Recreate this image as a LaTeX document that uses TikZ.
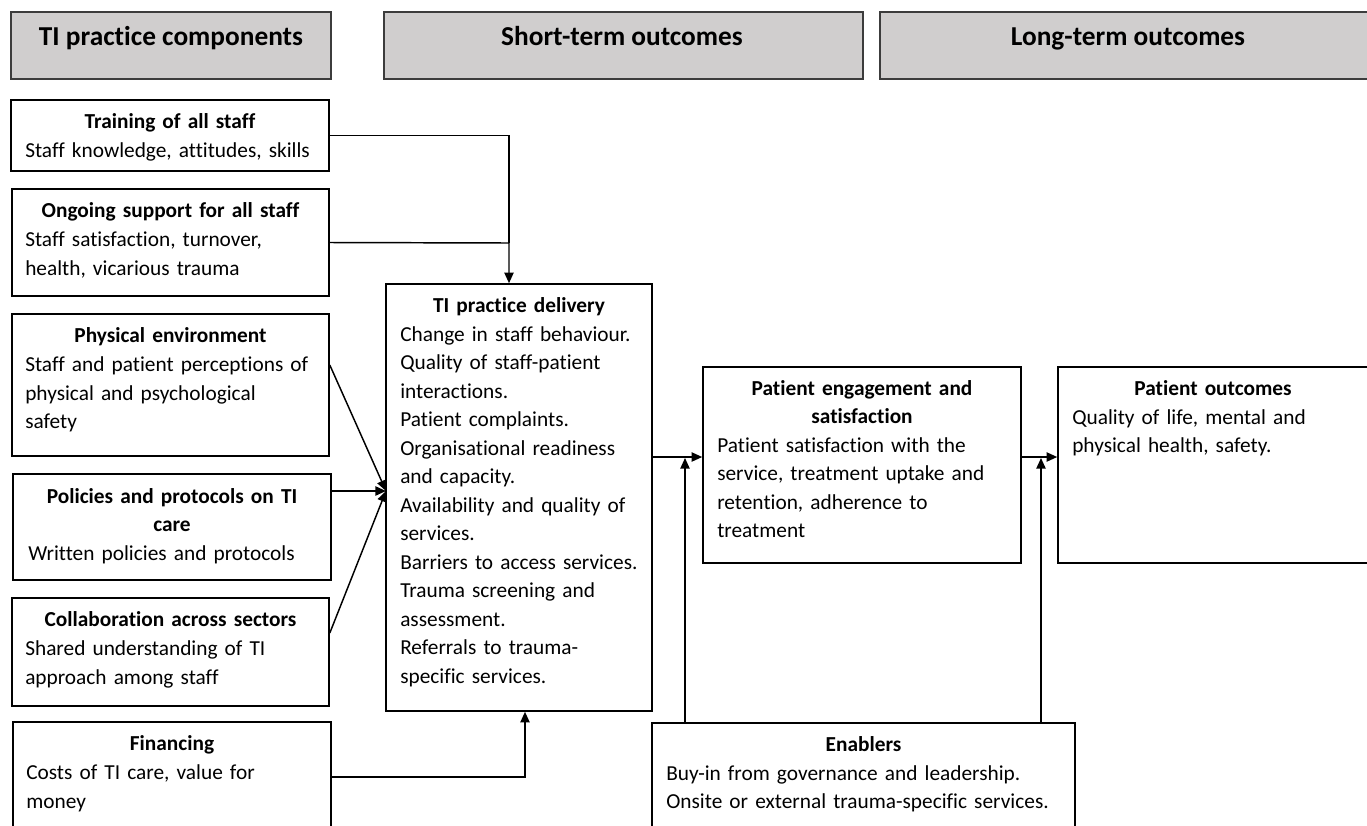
\documentclass[tikz,border=0pt]{standalone}
\usepackage{fontspec}
\setmainfont{Carlito}[Ligatures={NoCommon}]
\usetikzlibrary{arrows.meta,fit}
\definecolor{hdrgray}{RGB}{208,206,206}

\begin{document}
\begin{tikzpicture}[x=0.75pt,y=0.75pt,yscale=-1,
  every node/.style={font=\fontsize{16}{21.4}\selectfont, inner sep=0pt},
  hdr/.style={draw={rgb,255:red,60;green,60;blue,60}, fill=hdrgray, line width=1.2pt},
  hdrtext/.style={font=\fontsize{20.5}{24}\selectfont\bfseries, anchor=base},
  box/.style={draw, line width=1.2pt},
  ttl/.style={font=\fontsize{16}{21.4}\selectfont\bfseries, align=center, text width=236pt, anchor=base},
  txt/.style={align=left, text width=300pt, anchor=base west},
  link/.style={line width=1.1pt, -{Triangle[length=8pt,width=7pt]}},
  plain/.style={line width=1.1pt}
]
\useasboundingbox (0,0) rectangle (1367,825);
\clip (0,0) rectangle (1367,825);

%Shape: Rectangle [headers]
\node[hdr, fit={(11,12) (331,79)}] (hdrComp) {};
\node[hdr, fit={(384,12) (863,79)}] (hdrShort) {};
\node[hdr, fit={(880,12) (1376,79)}] (hdrLong) {};
% Text Node
\node[hdrtext] (hdrCompT) at (171,45) {TI practice components};
% Text Node
\node[hdrtext] (hdrShortT) at (622,45) {Short-term outcomes};
% Text Node
\node[hdrtext] (hdrLongT) at (1128,45) {Long-term outcomes};

%Shape: Rectangle [components]
\node[box, fit={(11,100) (329,171)}] (train) {};
\node[box, fit={(12,189) (329,296)}] (support) {};
\node[box, fit={(12,314) (329,456)}] (phys) {};
\node[box, fit={(13,474) (331,580)}] (policy) {};
\node[box, fit={(12,598) (329,706)}] (collab) {};
\node[box, fit={(13,722) (331,850)}] (finance) {};

% Text Node
\node[ttl] (trainT) at (170,128.5) {Training of all staff};
\node[txt] (trainB) at (25,157) {Staff knowledge, attitudes, skills};
% Text Node
\node[ttl] (supportT) at (170.5,217.5) {Ongoing support for all staff};
\node[txt] (supportB) at (25,246.5) {Staff satisfaction, turnover,\\health, vicarious trauma};
% Text Node
\node[ttl] (physT) at (170.5,342.5) {Physical environment};
\node[txt] (physB) at (25,371.5) {Staff and patient perceptions of\\physical and psychological\\safety};
% Text Node
\node[ttl] (policyT) at (172,503) {Policies and protocols on TI\\care};
\node[txt] (policyB) at (28,560) {Written policies and protocols};
% Text Node
\node[ttl] (collabT) at (170.5,626.5) {Collaboration across sectors};
\node[txt] (collabB) at (25,655.5) {Shared understanding of TI\\approach among staff};
% Text Node
\node[ttl] (financeT) at (172,750.5) {Financing};
\node[txt] (financeB) at (26,779.5) {Costs of TI care, value for\\money};

%Shape: Rectangle [delivery]
\node[box, fit={(386,284) (652,711)}] (deliv) {};
% Text Node
\node[ttl] (delivT) at (519,312) {TI practice delivery};
\node[txt] (delivB) at (400,341) {Change in staff behaviour.\\Quality of staff-patient\\interactions.\\Patient complaints.\\Organisational readiness\\and capacity.\\Availability and quality of\\services.\\Barriers to access services.\\Trauma screening and\\assessment.\\Referrals to trauma-\\specific services.};

%Shape: Rectangle [outcomes]
\node[box, fit={(703,367) (1021,563)}] (engage) {};
\node[box, fit={(1058,367) (1372,563)}] (outcome) {};
\node[box, fit={(652,723) (1075,850)}] (enable) {};
% Text Node
\node[ttl] (engageT) at (862,395) {Patient engagement and\\satisfaction};
\node[txt] (engageB) at (717,452) {Patient satisfaction with the\\service, treatment uptake and\\retention, adherence to\\treatment};
% Text Node
\node[ttl] (outcomeT) at (1213,395) {Patient outcomes};
\node[txt] (outcomeB) at (1072,424) {Quality of life, mental and\\physical health, safety.};
% Text Node
\node[ttl, text width=300pt] (enableT) at (863.5,751) {Enablers};
\node[txt] (enableB) at (666,780) {Buy-in from governance and leadership.\\Onsite or external trauma-specific services.};

%Connectors
\coordinate (join) at (509,243);
\coordinate (hub) at (386,491);
\coordinate (finIn) at (deliv.south -| 525,0);
\coordinate (midA) at (685,458);
\coordinate (midB) at (1041,458);

\draw[plain] (train.east) -| (join);
\draw[link] (support.east) -- (join) -- (join |- deliv.north);
\draw[link] (phys.east |- 0,365) -- (hub);
\draw[link] (policy.east |- hub) -- (hub);
\draw[link] (collab.east |- 0,633) -- (hub);
\draw[link] (finance.east |- 0,777) -| (finIn);
\draw[link] (deliv.east |- 0,457) -- (engage.west |- 0,457);
\draw[link] (engage.east |- 0,457) -- (outcome.west |- 0,457);
\draw[link] (enable.north -| midA) -- (midA);
\draw[link] (enable.north -| midB) -- (midB);

\end{tikzpicture}
\end{document}
